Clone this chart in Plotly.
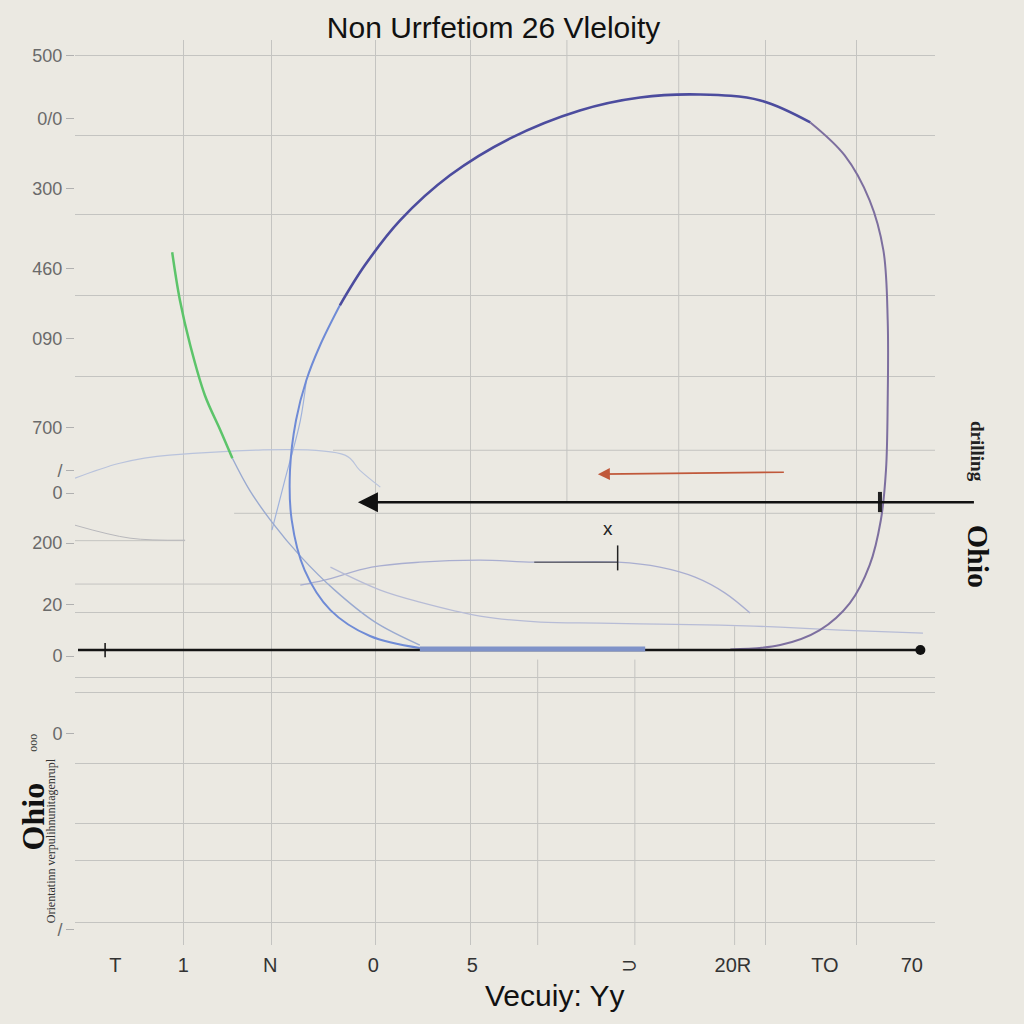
import plotly.graph_objects as go

# ---------------- data ----------------
title_text = "Non Urrfetiom 26 Vleloity"
x_title = "Vecuiy: Yy"

x_label_pos = [4.7, 12.6, 22.7, 34.7, 46.2, 64.5, 76.5, 87.2, 97.3]
x_label_txt = ["T", "1", "N", "0", "5", "⊃", "20R", "TO", "70"]

y_label_pos = [500, 447, 388, 321, 262, 187, 151, 132, 90, 38, -5, -70, -235]
y_label_txt = ["500", "0/0", "300", "460", "090", "700", "/", "0", "200", "20", "0", "0", "/"]

x_grid = [12.6, 22.9, 34.9, 46.0, 80.3, 90.9]
y_grid = [500, 433, 366, 298, 230, 32, -23, -36, -95, -146, -177, -229]

# partial grid lines: (x0, x1, y0, y1)
partial_v = [(57.2, 57.2, 124, 513), (70.2, 70.2, 0, 513), (53.8, 53.8, -248, -8),
             (65.1, 65.1, -248, -8), (76.7, 76.7, -248, 20)]
partial_h = [(30.0, 100, 168, 168), (18.5, 100, 115, 115), (0, 12.8, 92, 92), (0, 35.0, 55.5, 55.5)]

# big loop (blue -> indigo -> purple)
loop_left_x = [40.1, 34.3, 29.7, 26.7, 25.2, 25.0, 25.7, 26.9, 28.5, 30.8]
loop_left_y = [1.7, 11.8, 33.6, 67.2, 109.2, 151.3, 193.3, 226.9, 256.3, 289.9]
loop_top_x = [30.8, 33.7, 37.8, 43.6, 50.6, 58.7, 65.7, 72.7, 79.7, 85.5]
loop_top_y = [289.9, 323.5, 361.3, 399.2, 430.3, 453.8, 464.7, 467.2, 462.2, 443.7]
loop_right_x = [85.5, 89.5, 92.4, 94.0, 94.5, 94.5, 94.3, 93.7, 92.4, 90.1, 86.6, 82.0, 76.2]
loop_right_y = [443.7, 416.0, 378.2, 336.1, 277.3, 210.1, 151.3, 109.2, 71.4, 39.5, 16.8, 4.2, 0.5]

strand_x = [26.9, 26.2, 24.4, 22.9]
strand_y = [226.9, 193.0, 142.9, 100.8]

green_x = [11.3, 12.2, 13.4, 15.1, 16.9, 18.3]
green_y = [334.5, 294.1, 256.3, 214.3, 184.9, 161.3]
green_tail_x = [18.3, 20.3, 22.9, 26.2, 30.2, 34.9, 40.1]
green_tail_y = [161.3, 134.5, 107.6, 79.0, 50.4, 23.5, 4.2]

thin_a_x = [0.0, 5.2, 11.0, 31.4, 33.1, 35.5]
thin_a_y = [144.5, 157.1, 163.9, 163.9, 151.3, 137.0]
thin_b_x = [0.0, 6.4, 12.8]
thin_b_y = [105.0, 94.1, 92.4]
thin_c_x = [26.2, 29.0, 34.5, 40.1, 47.1, 53.4, 63.1, 68.0, 72.1, 75.6, 78.5]
thin_c_y = [54.6, 58.8, 69.7, 73.9, 75.6, 73.9, 73.9, 69.7, 61.3, 47.9, 31.1]
dark_c_x = [53.4, 63.1]
dark_c_y = [73.9, 73.9]
thin_d_x = [29.7, 35.5, 40.1, 47.1, 54.1, 61.0, 68.0, 75.0, 82.0, 89.0, 98.6]
thin_d_y = [69.7, 50.4, 40.3, 28.6, 23.5, 22.7, 21.8, 21.0, 19.3, 16.8, 14.3]

axis_line_x = [0.35, 98.3]
axis_line_y = [0, 0]
blue_band_x = [40.1, 66.3]
blue_band_y = [0.8, 0.8]

black_arrow = dict(head_x=32.9, tail_x=104.7, y=124.4)
red_arrow = dict(head_x=60.8, tail_x=82.6, head_y=147.9, tail_y=149.6)
arrow_tick_x = [93.6, 93.6]
arrow_tick_y = [116, 133]
plus_x = [63.1, 63.1]
plus_y = [67, 88]
axis_tick_x = [3.5, 3.5]
axis_tick_y = [-6, 6]

# ---------------- figure ----------------
BG = "#ebe9e2"
GRID = "#c4c4c1"
fig = go.Figure()

def line(x, y, color, width, shape="spline"):
    fig.add_trace(go.Scatter(x=x, y=y, mode="lines", hoverinfo="skip",
                             line=dict(color=color, width=width, shape=shape),
                             showlegend=False))

line(thin_a_x, thin_a_y, "#b9c3dc", 1.2)
line(thin_b_x, thin_b_y, "#b8b8bc", 1.0)
line(thin_c_x, thin_c_y, "#a9aed0", 1.3)
line(dark_c_x, dark_c_y, "#666670", 1.6, "linear")
line(thin_d_x, thin_d_y, "#b7bcd6", 1.3)
line(strand_x, strand_y, "#9fb2dc", 1.2)
line(green_tail_x, green_tail_y, "#9aaad0", 1.4)
line(green_x, green_y, "#5cc46a", 2.5)
line(loop_left_x, loop_left_y, "#6f8bd6", 2.0)
line(loop_top_x, loop_top_y, "#4c4c9e", 2.6)
line(loop_right_x, loop_right_y, "#7d6f9f", 2.0)

line(axis_line_x, axis_line_y, "#141414", 2.5, "linear")
line(blue_band_x, blue_band_y, "#7f92c8", 5, "linear")
fig.add_trace(go.Scatter(x=[axis_line_x[-1]], y=[axis_line_y[-1]], mode="markers",
                         marker=dict(color="#111", size=10), showlegend=False, hoverinfo="skip"))
line(axis_tick_x, axis_tick_y, "#111", 1.5, "linear")
line(arrow_tick_x, arrow_tick_y, "#222", 4, "linear")
line(plus_x, plus_y, "#222", 1.5, "linear")

# overlay axis carrier (invisible)
fig.add_trace(go.Scatter(x=x_label_pos, y=y_label_pos, xaxis="x2", yaxis="y2", mode="markers",
                         marker=dict(opacity=0), showlegend=False, hoverinfo="skip"))

shapes = []
for x0, x1, y0, y1 in partial_v + partial_h:
    shapes.append(dict(type="line", xref="x", yref="y", x0=x0, x1=x1, y0=y0, y1=y1,
                       line=dict(color=GRID, width=1), layer="below"))

annotations = [
    dict(x=black_arrow["head_x"], y=black_arrow["y"], ax=black_arrow["tail_x"], ay=black_arrow["y"],
         xref="x", yref="y", axref="x", ayref="y", showarrow=True, arrowhead=2,
         arrowsize=1.6, arrowwidth=2.5, arrowcolor="#111", text=""),
    dict(x=red_arrow["head_x"], y=red_arrow["head_y"], ax=red_arrow["tail_x"], ay=red_arrow["tail_y"],
         xref="x", yref="y", axref="x", ayref="y", showarrow=True, arrowhead=2,
         arrowsize=1.5, arrowwidth=1.6, arrowcolor="#c0583a", text=""),
    dict(x=62.0, y=102.5, xref="x", yref="y", text="x", showarrow=False,
         xanchor="center", yanchor="middle",
         font=dict(size=19, color="#222", family="Liberation Sans")),
    dict(x=0.558, y=-0.0553, xref="paper", yref="paper", text=x_title, showarrow=False,
         xanchor="center", yanchor="middle",
         font=dict(size=30, color="#111", family="Liberation Sans Narrow, Liberation Sans")),
    dict(x=1.05, y=124.4 - 45, xref="paper", yref="y", text="<b>Ohio</b>", textangle=90,
         showarrow=False, xanchor="center", yanchor="middle",
         font=dict(size=30, color="#111", family="Liberation Serif")),
    dict(x=1.05, y=124.4 + 43, xref="paper", yref="y", text="<b>drilling</b>", textangle=90,
         showarrow=False, xanchor="center", yanchor="middle",
         font=dict(size=19, color="#222", family="Liberation Serif")),
    dict(x=-0.049, y=-140, xref="paper", yref="y", text="<b>Ohio</b>", textangle=-90,
         showarrow=False, xanchor="center", yanchor="middle",
         font=dict(size=32, color="#111", family="Liberation Serif")),
    dict(x=-0.049, y=-78, xref="paper", yref="y", text="ooo", textangle=-90,
         showarrow=False, xanchor="center", yanchor="middle",
         font=dict(size=12, color="#333", family="Liberation Serif")),
    dict(x=-0.027, y=-160, xref="paper", yref="y", text="Orientatinn verpulihnunitagenrupl",
         textangle=-90, showarrow=False, xanchor="center", yanchor="middle",
         font=dict(size=12, color="#333", family="Liberation Serif")),
]

fig.update_layout(
    width=1024, height=1024,
    margin=dict(l=75, r=89, t=40, b=79),
    paper_bgcolor=BG, plot_bgcolor=BG,
    showlegend=False,
    title=dict(text=title_text, x=0.482, y=1 - 27 / 1024, xref="container", yref="container",
               xanchor="center", yanchor="middle",
               font=dict(size=30, color="#111", family="Liberation Sans")),
    shapes=shapes,
    annotations=annotations,
    xaxis=dict(range=[0, 100], tickvals=x_grid, showticklabels=False, ticks="",
               showgrid=True, gridcolor=GRID, gridwidth=1, zeroline=False, showline=False),
    yaxis=dict(range=[-248, 513], tickvals=y_grid, showticklabels=False, ticks="",
               showgrid=True, gridcolor=GRID, gridwidth=1, zeroline=False, showline=False),
    xaxis2=dict(range=[0, 100], overlaying="x", side="bottom", tickvals=x_label_pos,
                ticktext=x_label_txt, showgrid=False, zeroline=False, showline=False, ticks="",
                ticklabelstandoff=6,
                tickfont=dict(size=20, color="#333",
                              family="Liberation Sans Narrow, Liberation Sans")),
    yaxis2=dict(range=[-248, 513], overlaying="y", side="left", tickvals=y_label_pos,
                ticktext=y_label_txt, showgrid=False, zeroline=False, showline=False,
                ticks="outside", ticklen=8, tickcolor="#b0b0b0",
                tickfont=dict(size=18, color="#6a6a6a", family="Liberation Sans")),
)

fig.write_html("out.html", config={"displayModeBar": False},
               post_script="document.body.style.margin='0';"
                           "document.body.style.background='#ebe9e2';")
